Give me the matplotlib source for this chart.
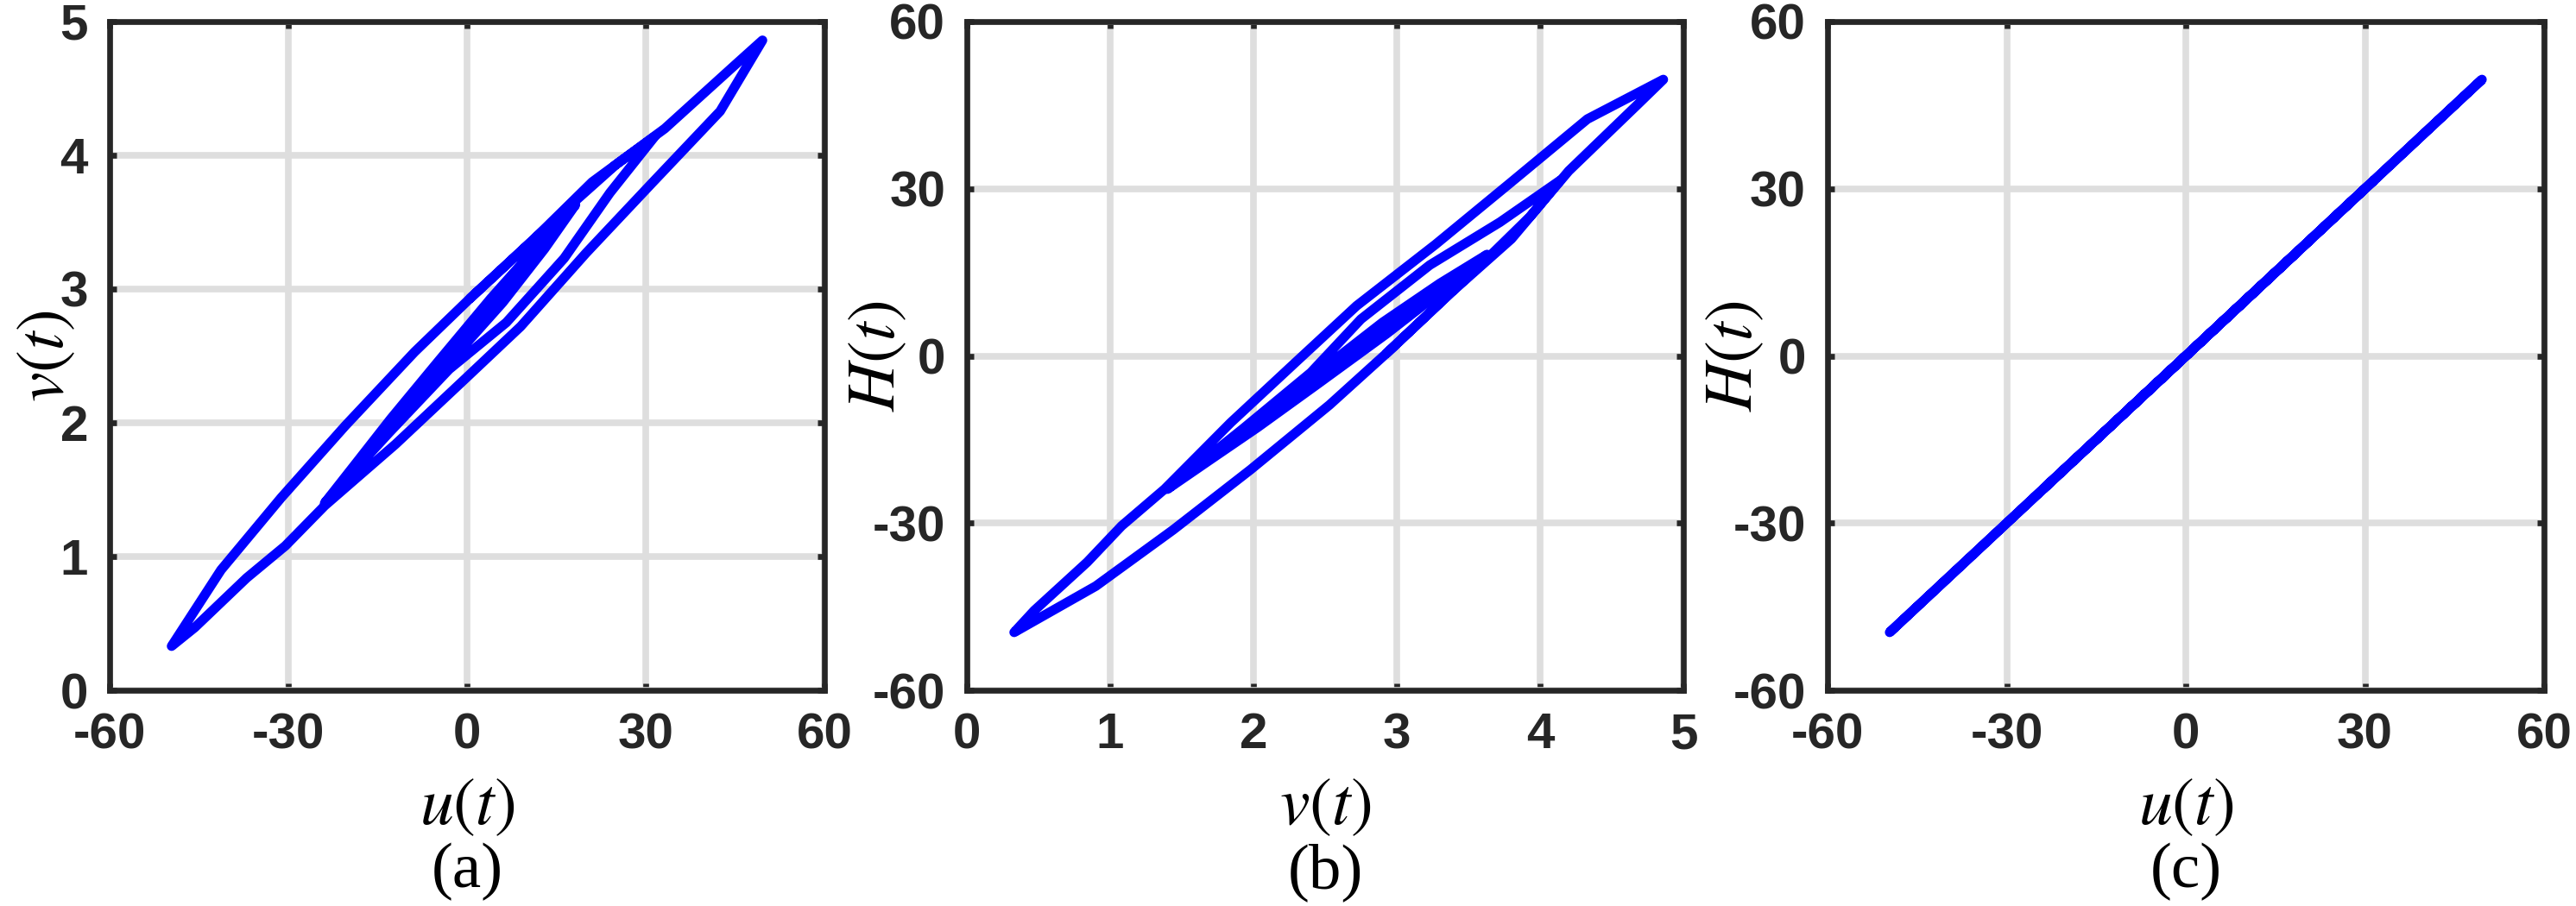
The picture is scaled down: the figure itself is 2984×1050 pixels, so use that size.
import matplotlib
matplotlib.use("Agg")
import matplotlib.pyplot as plt

plt.rcParams['mathtext.fontset'] = 'stix'

u = [0.5, 11.4, 21.0, 33.2, 45.1, 49.6,
     42.5, 31.0, 20.0, 9.0, -1.0, -12.0, -23.9, -30.5, -37.0, -45.7, -49.6,
     -41.3, -31.2, -20.4, -8.8, 0.5, 11.4, 18.2, 25.0, 31.5,
     24.0, 16.3, 6.6, -3.0, -13.0, -23.9,
     -18.6, -12.8, -5.0, 4.0, 11.0, 18.2,
     13.0, 6.0, -1.0, -8.0, -15.3,
     -11.0, -4.0, 3.0, 11.2,
     6.0, 0.0, -6.0, -10.0,
     -5.0, -2.0]
v = [2.93, 3.38, 3.80, 4.20, 4.68, 4.86,
     4.33, 3.79, 3.27, 2.72, 2.30, 1.84, 1.38, 1.08, 0.84, 0.47, 0.33,
     0.90, 1.44, 1.98, 2.53, 2.93, 3.38, 3.66, 3.93, 4.14,
     3.72, 3.23, 2.75, 2.40, 1.93, 1.40,
     1.70, 2.03, 2.45, 2.93, 3.28, 3.63,
     3.30, 2.90, 2.55, 2.20, 1.83,
     2.08, 2.45, 2.85, 3.25,
     2.94, 2.62, 2.32, 2.12,
     2.40, 2.54]
H = list(u)

uv_ticks = [-60, -30, 0, 30, 60]
v_ticks = [0, 1, 2, 3, 4, 5]

dark = '#262626'
blue = '#0000ff'
tick_font = {'family': ['Liberation Sans', 'DejaVu Sans'], 'weight': 'bold', 'size': 42}

fig = plt.figure(figsize=(29.84, 10.5), dpi=100)
lefts = [127 / 2984, 1120 / 2984, 2117 / 2984]
widths = [828 / 2984, 830 / 2984, 830 / 2984]

panels = [
    (u, v, uv_ticks, v_ticks, (-60, 60), (0, 5), r'$u(t)$', r'$v(t)$', '(a)', -0.092),
    (v, H, v_ticks, uv_ticks, (0, 5), (-60, 60), r'$v(t)$', r'$H(t)$', '(b)', -0.128),
    (u, H, uv_ticks, uv_ticks, (-60, 60), (-60, 60), r'$u(t)$', r'$H(t)$', '(c)', -0.132),
]

for i, (xs, ys, xt, yt, xl, yl, xlab, ylab, tag, ylx) in enumerate(panels):
    ax = fig.add_axes([lefts[i], 250 / 1050, widths[i], 775 / 1050])
    ax.plot(xs, ys, color=blue, lw=8, solid_joinstyle='round',
            solid_capstyle='round', zorder=3)
    ax.set_xlim(xl)
    ax.set_ylim(yl)
    ax.set_xticks(xt)
    ax.set_yticks(yt)
    ax.set_xticklabels([str(t) for t in xt], fontdict=tick_font, color=dark)
    ax.set_yticklabels([str(t) for t in yt], fontdict=tick_font, color=dark)
    ax.grid(True, color='#dedede', lw=5.5, zorder=0)
    ax.set_axisbelow(True)
    for s in ax.spines.values():
        s.set_color(dark)
        s.set_linewidth(4.8)
        s.set_zorder(4)
    ax.tick_params(direction='in', length=6, width=4.8, color=dark,
                   top=True, right=True)
    ax.tick_params(axis='x', pad=18)
    ax.tick_params(axis='y', pad=18)
    ax.text(0.5, -0.172, xlab, transform=ax.transAxes, ha='center',
            va='center', fontsize=56)
    ax.text(ylx, 0.5, ylab, transform=ax.transAxes, ha='center',
            va='center', rotation=90, fontsize=56)
    ax.text(0.5, -0.272, tag, transform=ax.transAxes, ha='center',
            va='center', fontsize=54,
            family=['Liberation Serif', 'DejaVu Serif'])

fig.savefig('out.png', dpi=100)
